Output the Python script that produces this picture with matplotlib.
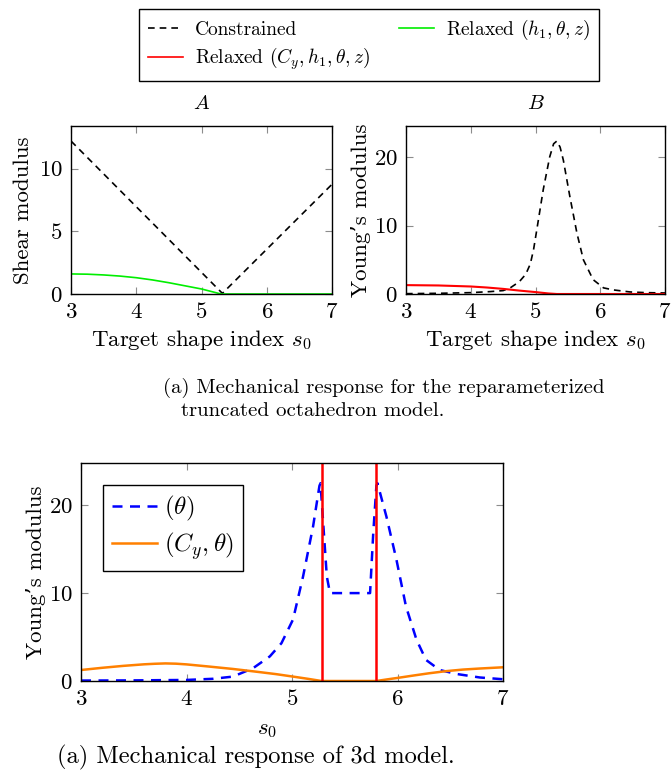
import matplotlib
matplotlib.use("Agg")
import matplotlib.pyplot as plt
from matplotlib.lines import Line2D

plt.rcParams['font.family'] = ['cmr10', 'DejaVu Serif']
plt.rcParams['mathtext.fontset'] = 'cm'
plt.rcParams['axes.formatter.use_mathtext'] = True
plt.rcParams['font.size'] = 16.5

# panel A: shear modulus
a_x = [3.0, 5.32, 7.0]
a_constrained = [12.2, 0.05, 8.75]
a_relaxed_x = [3.0, 3.25, 3.5, 3.75, 4.0, 4.25, 4.5, 4.75, 5.0, 5.15, 5.3, 5.5, 6.0, 6.5, 7.0]
a_relaxed = [1.6, 1.58, 1.52, 1.43, 1.3, 1.12, 0.9, 0.65, 0.4, 0.2, 0.0, 0.0, 0.0, 0.0, 0.0]

# panel B: Young's modulus
b_x = [3.0, 3.5, 4.0, 4.3, 4.5, 4.61, 4.75, 4.85, 4.92, 4.97, 5.02, 5.12, 5.22, 5.28, 5.33,
       5.38, 5.43, 5.53, 5.64, 5.74, 5.89, 6.05, 6.2, 6.46, 6.7, 7.0]
b_constrained = [0.05, 0.1, 0.2, 0.35, 0.5, 0.9, 1.8, 2.9, 4.4, 6.5, 9.4, 15.3, 20.1, 22.0, 22.4,
                 21.5, 19.6, 14.3, 8.9, 5.0, 2.1, 0.9, 0.6, 0.3, 0.2, 0.15]
b_relaxed_x = [3.0, 3.5, 4.0, 4.25, 4.5, 4.75, 5.0, 5.2, 5.33, 5.6, 6.0, 6.5, 7.0]
b_relaxed = [1.3, 1.25, 1.1, 0.95, 0.75, 0.5, 0.28, 0.08, 0.0, 0.0, 0.0, 0.0, 0.0]

# 3d model
c_x = [3.0, 3.5, 4.0, 4.25, 4.44, 4.63, 4.79, 4.9, 5.01, 5.105, 5.2, 5.26, 5.27,
       5.33, 5.36, 5.74, 5.77, 5.8, 5.81, 5.895, 5.99, 6.08, 6.18, 6.27, 6.4, 6.56, 6.78, 7.0]
c_theta = [0.05, 0.07, 0.12, 0.25, 0.5, 1.45, 2.8, 4.3, 7.0, 11.9, 17.6, 22.2, 22.5,
           11.9, 10.0, 10.0, 16.8, 22.2, 22.5, 18.7, 13.8, 8.5, 4.7, 2.4, 1.25, 0.8, 0.4, 0.2]
c_cy_x = [3.0, 3.2, 3.4, 3.6, 3.7, 3.8, 3.9, 4.0, 4.2, 4.44, 4.66, 4.85, 5.01, 5.15, 5.28,
          5.5, 5.8, 5.9, 6.0, 6.15, 6.3, 6.46, 6.62, 6.78, 7.0]
c_cy = [1.25, 1.5, 1.72, 1.9, 1.96, 2.0, 1.97, 1.89, 1.66, 1.37, 1.06, 0.78, 0.5, 0.25, 0.0,
        0.0, 0.0, 0.18, 0.35, 0.62, 0.88, 1.12, 1.3, 1.42, 1.56]
c_vlines = [5.28, 5.80]

W, H = 671, 771
fig = plt.figure(figsize=(W / 100, H / 100), dpi=100)


def px_axes(left, top, right, bottom):
    return fig.add_axes([left / W, 1 - bottom / H, (right - left) / W, (bottom - top) / H])


def style(ax):
    ax.tick_params(direction='in', top=True, right=True, color='0.55', length=5, pad=6)
    for s in ax.spines.values():
        s.set_linewidth(1.0)


axA = px_axes(71, 126, 332, 294)
axA.plot(a_x, a_constrained, 'k--', lw=1.2, dashes=(4, 3))
axA.plot(a_relaxed_x, a_relaxed, color='#00ee00', lw=1.2)
axA.set_xlim(3, 7)
axA.set_ylim(0, 13.4)
axA.set_xticks([3, 4, 5, 6, 7])
axA.set_yticks([0, 5, 10])
axA.set_title('$A$', fontsize=15, pad=12)
axA.set_ylabel('Shear modulus', labelpad=4)
axA.set_xlabel('Target shape index $s_0$', labelpad=4)
style(axA)

axB = px_axes(406, 126, 665, 294)
axB.plot(b_x, b_constrained, 'k--', lw=1.2, dashes=(4, 3))
axB.plot(b_relaxed_x, b_relaxed, color='red', lw=1.5)
axB.set_xlim(3, 7)
axB.set_ylim(0, 24.6)
axB.set_xticks([3, 4, 5, 6, 7])
axB.set_yticks([0, 10, 20])
axB.set_title('$B$', fontsize=15, pad=12)
axB.set_ylabel('Young\u2019s modulus', labelpad=2)
axB.set_xlabel('Target shape index $s_0$', labelpad=4)
style(axB)

handles = [Line2D([], [], color='k', ls='--', lw=1.2, dashes=(4, 3)),
           Line2D([], [], color='red', lw=1.2),
           Line2D([], [], color='#00ee00', lw=1.2)]
labels = ['Constrained', r'Relaxed $(C_y, h_1, \theta, z)$', r'Relaxed $(h_1, \theta, z)$']
fig.legend(handles, labels, ncol=2, loc='center', bbox_to_anchor=(369 / W, 1 - 45 / H),
           fontsize=14, frameon=True, fancybox=False, edgecolor='k', framealpha=1,
           handlelength=1.8, columnspacing=1.5, handletextpad=0.6, borderpad=0.45,
           labelspacing=0.35)

fig.text(163 / W, 1 - 388 / H, '(a) Mechanical response for the reparameterized',
         ha='left', va='center', fontsize=15)
fig.text(181 / W, 1 - 411 / H, 'truncated octahedron model.',
         ha='left', va='center', fontsize=15)

axC = px_axes(81, 463, 503, 681)
axC.plot(c_x, c_theta, color='blue', ls='--', lw=1.8, dashes=(4, 3), label=r'$(\theta)$')
axC.plot(c_cy_x, c_cy, color='#ff8000', lw=1.8, label=r'$(C_y, \theta)$')
for v in c_vlines:
    axC.axvline(v, color='red', lw=1.8)
axC.set_xlim(3, 7)
axC.set_ylim(0, 24.8)
axC.set_xticks([3, 4, 5, 6, 7])
axC.set_yticks([0, 10, 20])
axC.set_ylabel('Young\u2019s modulus', labelpad=2)
axC.set_xlabel('$s_0$')
axC.xaxis.set_label_coords((267 - 81) / 422, -(730 - 681) / 218, transform=axC.transAxes)
axC.xaxis.label.set_va('center')
axC.legend(loc='upper left', bbox_to_anchor=(0.052, 0.899), borderaxespad=0, fontsize=18,
           frameon=True, fancybox=False, edgecolor='k', framealpha=1, handlelength=1.8,
           handletextpad=0.3, borderpad=0.35, labelspacing=0.3)
style(axC)

fig.text(256 / W, 1 - 757 / H, '(a) Mechanical response of 3d model.',
         ha='center', va='center', fontsize=17.6)

fig.savefig('out.png', dpi=100)
